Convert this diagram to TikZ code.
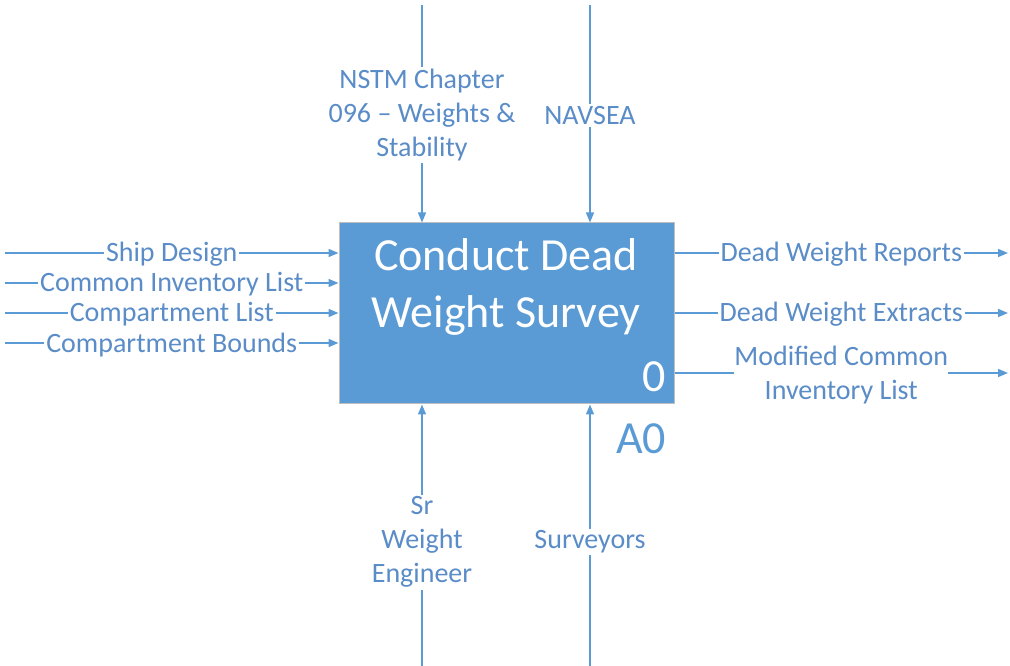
\documentclass[tikz,border=0pt]{standalone}
\usepackage{fontspec}
\setmainfont{Carlito}
\usetikzlibrary{arrows.meta}

\definecolor{idefblue}{HTML}{5B9BD5}
\definecolor{idefink}{HTML}{5A8CC8}

\tikzset{
  flow/.style={idefblue,line width=1.1pt,-{Triangle[length=7.5pt,width=6pt]}},
  lbl/.style={fill=white,text=idefink,inner sep=1.5pt,align=center,yshift=-1.2pt,
    font=\fontsize{21}{25.5}\selectfont},
  big/.style={text=white,inner sep=0pt,align=center,
    font=\fontsize{34.5}{42.75}\selectfont},
}

\begin{document}
\begin{tikzpicture}[x=0.75pt,y=-0.75pt]
  \useasboundingbox (0,0) rectangle (1010,666);
  %\draw[very thin,red] (0,0) rectangle (1010,666);

  % activity box
  \node[draw=black!25,line width=0.75pt,fill=idefblue,
        minimum width=251.25pt,minimum height=135.75pt,inner sep=0pt] (box) at (506.5,313.5) {};
  \node[big] (title) at (506,287) {Conduct Dead\\Weight Survey};
  \node[big] (num) at (654,377) {0};
  \node[big,text=idefblue] (ref) at (641,439) {A0};

  % inputs
  \foreach \y/\name/\txt in {253/in1/Ship Design,
                             283/in2/Common Inventory List,
                             313/in3/Compartment List,
                             343/in4/Compartment Bounds} {
    \coordinate (\name) at (5,\y);
    \draw[flow] (\name) -- node[lbl] {\txt} (\name -| box.west);
  }

  % controls
  \coordinate (ctl1) at (422,5);
  \coordinate (ctl2) at (590,5);
  \draw[flow] (ctl1) -- node[lbl] {NSTM Chapter\\096 -- Weights \&\\Stability} (ctl1 |- box.north);
  \draw[flow] (ctl2) -- node[lbl] {NAVSEA} (ctl2 |- box.north);

  % mechanisms
  \coordinate (mech1) at (422,666);
  \coordinate (mech2) at (590,666);
  \draw[flow] (mech1) -- node[lbl,pos=0.48] {Sr\\Weight\\Engineer} (mech1 |- box.south);
  \draw[flow] (mech2) -- node[lbl,pos=0.48] {Surveyors} (mech2 |- box.south);

  % outputs
  \coordinate (out1) at (1008,253);
  \coordinate (out2) at (1008,313);
  \coordinate (out3) at (1008,373);
  \draw[flow] (out1 -| box.east) -- node[lbl] {Dead Weight Reports} (out1);
  \draw[flow] (out2 -| box.east) -- node[lbl] {Dead Weight Extracts} (out2);
  \draw[flow] (out3 -| box.east) -- node[lbl,inner sep=0pt] {Modified Common\\Inventory List} (out3);
\end{tikzpicture}
\end{document}
